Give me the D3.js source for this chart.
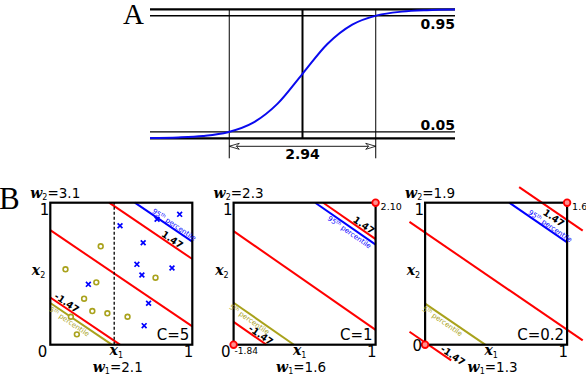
<!DOCTYPE html>
<html><head><meta charset="utf-8">
<script src="https://cdn.jsdelivr.net/npm/d3@7"></script>
<style>body{margin:0;background:#fff}svg{display:block}</style>
</head><body><svg id="c" width="586" height="376"></svg>
<script>
// ---------- Panel A data ----------
const sigX = [-6.13,-5,-4,-3,-2,-1,0,1,2,3,4,5,6.13];
const sigY = [0.0022,0.0067,0.018,0.047,0.119,0.269,0.5,0.731,0.881,0.953,0.982,0.9933,0.9978];
const sigDomain = [-6.13, 6.13];
const levels = [0.05, 0.95];
const levelLabels = ["0.05", "0.95"];
const halfWidth = 2.944;
const widthLabel = "2.94";

// ---------- Panel B data ----------
const panelNames = ["C=5", "C=1", "C=0.2"];
const w1 = [2.1, 1.6, 1.3];
const w2 = [3.1, 2.3, 1.9];
const w1Labels = ["2.1", "1.6", "1.3"];
const w2Labels = ["3.1", "2.3", "1.9"];
const centerK = [2.5, 1.84, 1.5];
const marginOffset = 1.47;
const marginLabels = ["1.47", "-1.47"];
const p95K = [4.35, 3.22, 2.67];
const p5K = [0.91, 0.68, 0.55];
const cornerLow = [null, "-1.84", null];
const cornerHigh = [null, "2.10", "1.6"];
const splitX = 0.45;
const crossX = [0.491,0.911,0.752,0.654,0.610,0.645,0.857,0.268,0.692,0.661];
const crossY = [0.838,0.918,0.883,0.718,0.566,0.491,0.540,0.425,0.292,0.134];
const circX = [0.355,0.107,0.324,0.741,0.238,0.296,0.402,0.544,0.145,0.187];
const circY = [0.693,0.531,0.439,0.472,0.324,0.237,0.221,0.197,0.197,0.073];

const svg = d3.select("#c");
const RED = "#ff0000", BLUE = "#0000ff", OLIVE = "#a9a21c", CURVE = "#0a0aee";
const SANS = "DejaVu Sans", SERIF = "Liberation Serif";

// ================= Panel A =================
const ax = d3.scaleLinear().domain(sigDomain).range([150, 455]);
const ay = d3.scaleLinear().domain([0, 1]).range([138.3, 9.3]);
const gA = svg.append("g");
gA.append("text").attr("x", 123).attr("y", 24).attr("font-family", SERIF)
  .attr("font-size", 29).text("A");
[[0, 2.2], [1, 2.2], [levels[0], 1.3], [levels[1], 1.3]].forEach(([v, sw]) => {
  gA.append("line").attr("x1", ax(sigDomain[0])).attr("x2", ax(sigDomain[1]))
    .attr("y1", ay(v)).attr("y2", ay(v)).attr("stroke", "#000").attr("stroke-width", sw);
});
gA.append("line").attr("x1", ax(0)).attr("x2", ax(0)).attr("y1", ay(1)).attr("y2", ay(0))
  .attr("stroke", "#000").attr("stroke-width", 2);
[-halfWidth, halfWidth].forEach(v => {
  gA.append("line").attr("x1", ax(v)).attr("x2", ax(v)).attr("y1", ay(1)).attr("y2", ay(0) + 20)
    .attr("stroke", "#000").attr("stroke-width", 1);
});
const sigData = sigX.map((x, i) => [x, sigY[i]]);
gA.append("path").datum(sigData)
  .attr("d", d3.line().x(d => ax(d[0])).y(d => ay(d[1])).curve(d3.curveMonotoneX))
  .attr("fill", "none").attr("stroke", CURVE).attr("stroke-width", 2);
const arY = ay(0) + 8;
gA.append("line").attr("x1", ax(-halfWidth)).attr("x2", ax(halfWidth)).attr("y1", arY).attr("y2", arY)
  .attr("stroke", "#000").attr("stroke-width", 0.9);
[[-halfWidth, 1], [halfWidth, -1]].forEach(([v, s]) => {
  const x = ax(v);
  gA.append("path")
    .attr("d", `M${x},${arY}L${x + s * 10},${arY - 3}L${x + s * 7},${arY}L${x + s * 10},${arY + 3}Z`)
    .attr("fill", "#fff").attr("stroke", "#000").attr("stroke-width", 0.8);
});
gA.append("text").attr("x", ax(0)).attr("y", 159).attr("text-anchor", "middle")
  .attr("font-family", SANS).attr("font-weight", "bold").attr("font-size", 14).text(widthLabel);
levels.forEach((v, i) => {
  gA.append("text").attr("x", 455).attr("y", ay(v) + (i === 1 ? 13.5 : -1.5)).attr("text-anchor", "end")
    .attr("font-family", SANS).attr("font-weight", "bold").attr("font-size", 14).text(levelLabels[i]);
});

// ================= Panel B =================
svg.append("text").attr("x", -1).attr("y", 209).attr("font-family", SERIF)
  .attr("font-size", 31).text("B");

const lefts = [50.3, 233.6, 425.1];
const SIZE = 142, TOP = 202.7;

function segment(a, b, k, lo, hi) {
  const pts = [];
  const add = (x, y) => {
    if (x >= lo - 1e-9 && x <= hi + 1e-9 && y >= lo - 1e-9 && y <= hi + 1e-9 &&
        !pts.some(p => Math.abs(p[0] - x) < 1e-6 && Math.abs(p[1] - y) < 1e-6)) pts.push([x, y]);
  };
  add(lo, (k - a * lo) / b); add(hi, (k - a * hi) / b);
  add((k - b * lo) / a, lo); add((k - b * hi) / a, hi);
  return pts.slice(0, 2);
}

function mathLabel(g, x, y, letter, sub, rest, anchor) {
  const t = g.append("text").attr("x", x).attr("y", y).attr("text-anchor", anchor || "start");
  t.append("tspan").attr("font-family", "DejaVu Serif").attr("font-style", "italic")
    .attr("font-weight", "bold").attr("font-size", 14).text(letter);
  t.append("tspan").attr("font-family", SANS).attr("font-size", 8).attr("dy", 2.5).text(sub);
  if (rest) t.append("tspan").attr("font-family", SANS).attr("font-size", 13.5).attr("dy", -2.5).text(rest);
  return t;
}

panelNames.forEach((name, i) => {
  const x0 = lefts[i];
  const sx = d3.scaleLinear().domain([0, 1]).range([x0, x0 + SIZE]);
  const sy = d3.scaleLinear().domain([0, 1]).range([TOP + SIZE, TOP]);
  const g = svg.append("g");
  const a = w1[i], b = w2[i];
  const extend = i === 2 ? 0.11 : 0;

  const drawLine = (k, color, lo, hi, sw) => {
    const s = segment(a, b, k, lo, hi);
    if (s.length < 2) return;
    g.append("line").attr("x1", sx(s[0][0])).attr("y1", sy(s[0][1]))
      .attr("x2", sx(s[1][0])).attr("y2", sy(s[1][1]))
      .attr("stroke", color).attr("stroke-width", sw);
  };
  drawLine(p95K[i], BLUE, 0, 1, 2);
  drawLine(p5K[i], OLIVE, 0, 1, 2);
  [0, marginOffset, -marginOffset].forEach(o => drawLine(centerK[i] + o, RED, -extend, 1 + extend, 2));

  if (i === 0) {
    g.append("line").attr("x1", sx(splitX)).attr("x2", sx(splitX)).attr("y1", sy(0)).attr("y2", sy(1))
      .attr("stroke", "#000").attr("stroke-width", 1.3).attr("stroke-dasharray", "3,2");
    circX.forEach((cx, j) => {
      g.append("circle").attr("cx", sx(cx)).attr("cy", sy(circY[j])).attr("r", 2.4)
        .attr("fill", "#fff").attr("stroke", OLIVE).attr("stroke-width", 1.6);
    });
    crossX.forEach((cx, j) => {
      const px = sx(cx), py = sy(crossY[j]), r = 2.4;
      g.append("path").attr("d", `M${px - r},${py - r}L${px + r},${py + r}M${px - r},${py + r}L${px + r},${py - r}`)
        .attr("stroke", BLUE).attr("stroke-width", 1.7);
    });
  }

  g.append("rect").attr("x", sx(0)).attr("y", sy(1)).attr("width", SIZE).attr("height", SIZE)
    .attr("fill", "none").attr("stroke", "#000").attr("stroke-width", 2.2);

  const ang = Math.atan2(sy(-a / b) - sy(0), sx(1) - sx(0)) * 180 / Math.PI;
  const lineText = (k, xc, side, color, size, weight, build) => {
    const px = sx(xc), py = sy((k - a * xc) / b);
    const t = g.append("text").attr("transform", `translate(${px},${py}) rotate(${ang})`)
      .attr("text-anchor", "middle").attr("font-family", SANS).attr("font-size", size)
      .attr("font-weight", weight).attr("fill", color)
      .attr("y", side === "above" ? -1.5 : size * 0.8 + 1.5);
    build(t, size);
  };
  const pct = (label) => (t, size) => {
    t.append("tspan").text(label);
    t.append("tspan").attr("font-size", size * 0.7).attr("dy", -size * 0.35).text("th");
    t.append("tspan").attr("dy", size * 0.35).text(" percentile");
  };
  const plain = (s) => (t) => t.text(s);
  const pos = [
    {m1: 0.84, p95: 0.857, m2: 0.096, p5: 0.153, p95side: "above", m1side: "above"},
    {m1: 0.898, p95: 0.835, m2: 0.173, p5: 0.13, p95side: "below", m1side: "above"},
    {m1: 0.929, p95: 0.866, m2: 0.176, p5: 0.141, p95side: "above", m1side: "below"}
  ][i];
  lineText(p95K[i], pos.p95, pos.p95side, BLUE, 7, "normal", pct("95"));
  lineText(p5K[i], pos.p5, "below", OLIVE, 7, "normal", pct("5"));
  lineText(centerK[i] + marginOffset, pos.m1, pos.m1side, "#000", 9.5, "bold", plain(marginLabels[0]));
  lineText(centerK[i] - marginOffset, pos.m2, "above", "#000", 9.5, "bold", plain(marginLabels[1]));

  if (cornerHigh[i] !== null) {
    [[0, 0], [1, 1]].forEach(([cx, cy]) => {
      g.append("circle").attr("cx", sx(cx)).attr("cy", sy(cy)).attr("r", 3.3)
        .attr("fill", "#ff9090").attr("stroke", RED).attr("stroke-width", 1.8);
    });
    g.append("text").attr("x", sx(1) + 5).attr("y", sy(1) + 7).attr("font-family", SANS)
      .attr("font-size", 9.5).text(cornerHigh[i]);
  }
  if (cornerLow[i] !== null) {
    g.append("text").attr("x", sx(0) + 1).attr("y", sy(0) + 9).attr("font-family", SANS)
      .attr("font-size", 9).text(cornerLow[i]);
  }

  g.append("text").attr("x", sx(0) - 1).attr("y", sy(1) + 12).attr("text-anchor", "end")
    .attr("font-family", SANS).attr("font-size", 15).text("1");
  g.append("text").attr("x", sx(1) + 1).attr("y", sy(0) + 12).attr("text-anchor", "end")
    .attr("font-family", SANS).attr("font-size", 15).text("1");
  g.append("text").attr("x", sx(0) - 3).attr("y", sy(0) + (i === 2 ? 6 : 12)).attr("text-anchor", "end")
    .attr("font-family", SANS).attr("font-size", 15).text("0");
  g.append("text").attr("x", sx(1) - 3).attr("y", sy(0) - 5).attr("text-anchor", "end")
    .attr("font-family", SANS).attr("font-size", 15).text(name);
  mathLabel(g, sx(0.465), sy(0) + 10.5, "x", "1", null, "middle");
  mathLabel(g, sx(0) - 5, sy(0.49), "x", "2", null, "end");
  mathLabel(g, sx(0) - 20, TOP - 5, "w", "2", "=" + w2Labels[i], "start");
  mathLabel(g, sx(0.475), sy(0) + 27, "w", "1", "=" + w1Labels[i], "middle");
});
</script></body></html>
